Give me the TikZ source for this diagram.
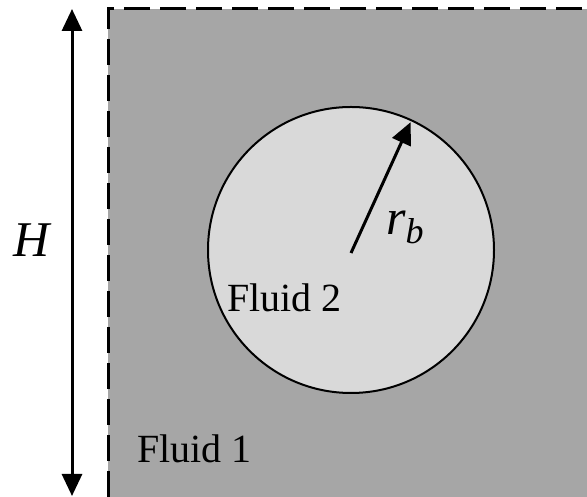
\documentclass[tikz,border=0pt]{standalone}
\usepackage{fontspec}
\setmainfont{Liberation Serif}
\usetikzlibrary{arrows.meta}

\begin{document}
\begin{tikzpicture}[x=1pt, y=1pt,
  bubble/.style={circle, draw, line width=2pt, fill=black!15, minimum size=286pt, inner sep=0pt, outer sep=0pt},
  lbl/.style={font=\fontsize{40}{40}\selectfont, inner sep=0pt},
  sym/.style={font=\fontsize{50}{50}\selectfont\itshape, inner sep=0pt},
  arr/.style={line width=3pt, -{Triangle[length=22pt, width=20pt]}}]
  \useasboundingbox (0,0) rectangle (587,497);
  % domain
  \fill[black!35] (108,0) rectangle (587,488);
  \draw[line width=3pt, dash pattern=on 26pt off 10pt] (108,0) -- (108,488) -- (587,488);
  % bubble
  \node[bubble] (fluidtwo) at (351,247) {};
  \coordinate (ctr) at (351,244);
  \draw[arr, shorten >=2pt] (ctr) -- (fluidtwo.65);
  % height arrow
  \coordinate (hbot) at (72,1);
  \coordinate (htop) at (72,488);
  \draw[arr, {Triangle[length=22pt, width=20pt]}-{Triangle[length=22pt, width=20pt]}] (hbot) -- (htop);
  % labels
  \node[sym] (hlabel) at (32,257) {H};
  \node[sym, anchor=base west] (rlabel) at (386,262) {r\raisebox{-9pt}{\fontsize{36}{36}\selectfont b}};
  \node[lbl, anchor=base west] (fluid2) at (227,185) {Fluid 2};
  \node[lbl, anchor=base west] (fluid1) at (137,34) {Fluid 1};
\end{tikzpicture}
\end{document}
